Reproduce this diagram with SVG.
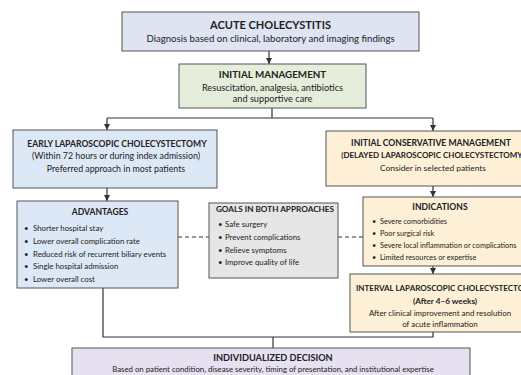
<svg xmlns="http://www.w3.org/2000/svg" width="521" height="375" viewBox="0 0 521 375">
<defs>
<marker id="ah" viewBox="0 0 10 10" refX="10" refY="5" markerWidth="6" markerHeight="6" markerUnits="userSpaceOnUse" orient="auto">
<path d="M0,0 L10,5 L0,10 z" fill="#333"/>
</marker>
<style>
text{font-family:Lato,"Noto Sans","Liberation Sans",sans-serif;fill:#222}
.box{stroke:#555;stroke-width:1}
.blue{fill:#dde8f6}
.top{fill:#dfe4f3}
.green{fill:#e5eedb}
.grey{fill:#e6e6e6}
.cream{fill:#fdf0d6}
.lav{fill:#e6e0f1}
.t{font-weight:bold;font-size:8.6px;text-anchor:middle}
.s{font-size:8.8px;text-anchor:middle}
.b{font-size:7.8px}
.c{stroke:#333;stroke-width:1.2;fill:none}
.d{stroke:#333;stroke-width:1.2;fill:none;stroke-dasharray:4,3}
</style>
</defs>
<rect width="521" height="375" fill="#fff"/>

<g id="connectors">
<line class="c" x1="269" y1="51" x2="269" y2="64" marker-end="url(#ah)"/>
<polyline class="c" points="272,108 272,118"/>
<polyline class="c" points="107,118 433,118"/>
<line class="c" x1="107" y1="118" x2="107" y2="130" marker-end="url(#ah)"/>
<line class="c" x1="433" y1="118" x2="433" y2="131" marker-end="url(#ah)"/>
<line class="c" x1="107" y1="188" x2="107" y2="201" marker-end="url(#ah)"/>
<line class="c" x1="433" y1="186" x2="433" y2="197" marker-end="url(#ah)"/>
<line class="c" x1="433" y1="266" x2="433" y2="274" marker-end="url(#ah)"/>
<polyline class="c" points="103,288 103,337 433,337 433,332"/>
<line class="c" x1="273" y1="337" x2="273" y2="348"/>
<line class="d" x1="178" y1="237" x2="209" y2="237"/>
<line class="d" x1="338" y1="237" x2="363" y2="237"/>
</g>

<g id="acute">
<rect class="box top" x="122" y="12" width="297" height="39"/>
<text x="270.5" y="29" style="font-size:11px;font-weight:bold;text-anchor:middle">ACUTE CHOLECYSTITIS</text>
<text x="270.5" y="42" style="font-size:9.6px;text-anchor:middle">Diagnosis based on clinical, laboratory and imaging findings</text>
</g>

<g id="initial">
<rect class="box green" x="179" y="64" width="187" height="44"/>
<text class="t" x="272.5" y="78" style="font-size:9.8px">INITIAL MANAGEMENT</text>
<text class="s" x="272.5" y="91" style="font-size:9.2px">Resuscitation, analgesia, antibiotics</text>
<text class="s" x="272.5" y="102" style="font-size:9.2px">and supportive care</text>
</g>

<g id="early">
<rect class="box blue" x="13" y="130" width="204" height="58"/>
<text class="t" x="117" y="147">EARLY LAPAROSCOPIC CHOLECYSTECTOMY</text>
<text class="s" x="116" y="159">(Within 72 hours or during index admission)</text>
<text class="s" x="116" y="172">Preferred approach in most patients</text>
</g>

<g id="advantages">
<rect class="box blue" x="17" y="201" width="161" height="87"/>
<text class="t" x="100" y="215">ADVANTAGES</text>
<g class="b">
<text x="24" y="231">•</text><text x="33" y="231">Shorter hospital stay</text>
<text x="24" y="244">•</text><text x="33" y="244">Lower overall complication rate</text>
<text x="24" y="257">•</text><text x="33" y="257">Reduced risk of recurrent biliary events</text>
<text x="24" y="269">•</text><text x="33" y="269">Single hospital admission</text>
<text x="24" y="282">•</text><text x="33" y="282">Lower overall cost</text>
</g>
</g>

<g id="goals">
<rect class="box grey" x="209" y="203" width="129" height="75"/>
<text class="t" x="275" y="212" style="font-size:8.2px">GOALS IN BOTH APPROACHES</text>
<g class="b">
<text x="218" y="227">•</text><text x="225" y="227">Safe surgery</text>
<text x="218" y="240">•</text><text x="225" y="240">Prevent complications</text>
<text x="218" y="253">•</text><text x="225" y="253">Relieve symptoms</text>
<text x="218" y="265">•</text><text x="225" y="265">Improve quality of life</text>
</g>
</g>

<g id="conservative">
<rect class="box cream" x="326" y="131" width="214" height="55"/>
<text class="t" x="431" y="146">INITIAL CONSERVATIVE MANAGEMENT</text>
<text class="t" x="433" y="158" style="font-size:8px">(DELAYED LAPAROSCOPIC CHOLECYSTECTOMY)</text>
<text class="s" x="433" y="171" style="font-size:8.4px">Consider in selected patients</text>
</g>

<g id="indications">
<rect class="box cream" x="363" y="197" width="173" height="69"/>
<text class="t" x="440" y="210">INDICATIONS</text>
<g class="b" style="font-size:7.3px">
<text x="372" y="224">•</text><text x="380" y="224">Severe comorbidities</text>
<text x="372" y="236">•</text><text x="380" y="236">Poor surgical risk</text>
<text x="372" y="248">•</text><text x="380" y="248">Severe local inflammation or complications</text>
<text x="372" y="260">•</text><text x="380" y="260">Limited resources or expertise</text>
</g>
</g>

<g id="interval">
<rect class="box cream" x="350" y="274" width="185" height="58"/>
<text x="356" y="291" style="font-size:8px;font-weight:bold">INTERVAL LAPAROSCOPIC CHOLECYSTECTOMY</text>
<text class="t" x="445" y="304" style="font-size:8.2px">(After 4–6 weeks)</text>
<text class="s" x="440" y="316" style="font-size:7.9px">After clinical improvement and resolution</text>
<text class="s" x="440" y="327" style="font-size:7.9px">of acute inflammation</text>
</g>

<g id="decision">
<rect class="box lav" x="72" y="348" width="398" height="34"/>
<text class="t" x="273" y="361" style="font-size:9.2px">INDIVIDUALIZED DECISION</text>
<text class="s" x="273" y="372" style="font-size:7.8px">Based on patient condition, disease severity, timing of presentation, and institutional expertise</text>
</g>
</svg>
